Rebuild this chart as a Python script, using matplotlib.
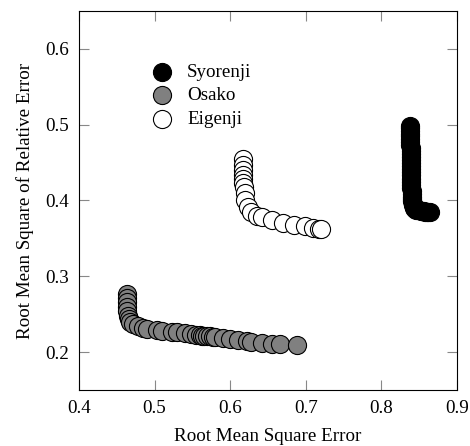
import matplotlib.pyplot as plt
import numpy as np

plt.rcParams['font.family'] = ['Liberation Serif', 'DejaVu Serif']
plt.rcParams['font.size'] = 13.7

# Syorenji
syo_x = [0.8380, 0.8381, 0.8381, 0.8382, 0.8383, 0.8383, 0.8384, 0.8385, 0.8386, 0.8386,
         0.8387, 0.8388, 0.8389, 0.8389, 0.8390, 0.8391, 0.8392, 0.8393, 0.8394, 0.8395,
         0.8396, 0.8397, 0.8399, 0.8401, 0.8403, 0.8406, 0.8410, 0.8415, 0.8421, 0.8428,
         0.8436, 0.8445, 0.8460, 0.8480, 0.8500, 0.8520, 0.8540, 0.8560, 0.8580, 0.8600,
         0.8620, 0.8640]
syo_y = [0.498, 0.495, 0.492, 0.488, 0.485, 0.481, 0.477, 0.473, 0.469, 0.465,
         0.461, 0.457, 0.453, 0.449, 0.445, 0.441, 0.437, 0.433, 0.429, 0.425,
         0.421, 0.417, 0.413, 0.409, 0.405, 0.402, 0.399, 0.396, 0.394, 0.392,
         0.390, 0.389, 0.388, 0.387, 0.387, 0.386, 0.386, 0.386, 0.385, 0.385,
         0.385, 0.385]

# Osako
osa_x = [0.463, 0.463, 0.463, 0.463, 0.464, 0.465, 0.466, 0.468, 0.472, 0.478,
         0.485, 0.490, 0.503, 0.510, 0.523, 0.530, 0.540, 0.548, 0.555, 0.560,
         0.563, 0.566, 0.570, 0.573, 0.577, 0.580, 0.591, 0.600, 0.610, 0.622,
         0.628, 0.642, 0.655, 0.666, 0.688]
osa_y = [0.277, 0.272, 0.266, 0.260, 0.254, 0.248, 0.243, 0.240, 0.237, 0.234,
         0.232, 0.231, 0.229, 0.228, 0.227, 0.226, 0.225, 0.224, 0.223, 0.222,
         0.2218, 0.2214, 0.221, 0.2206, 0.2202, 0.220, 0.218, 0.217, 0.216, 0.214,
         0.2136, 0.212, 0.211, 0.2106, 0.210]

# Eigenji
eig_x = [0.617, 0.617, 0.617, 0.617, 0.617, 0.617, 0.618, 0.619, 0.620, 0.623,
         0.628, 0.635, 0.642, 0.655, 0.670, 0.685, 0.699, 0.710, 0.717, 0.720]
eig_y = [0.455, 0.447, 0.440, 0.433, 0.428, 0.423, 0.418, 0.410, 0.400, 0.392,
         0.385, 0.380, 0.378, 0.374, 0.370, 0.368, 0.366, 0.364, 0.363, 0.362]

fig = plt.figure(figsize=(4.7, 4.46), dpi=100)
ax = fig.add_axes([0.168, 0.1256, 0.8043, 0.8497])

ax.scatter(syo_x, syo_y, s=170, c='black', edgecolors='black', linewidths=0.8, label='Syorenji')
ax.scatter(osa_x, osa_y, s=170, c='#808080', edgecolors='black', linewidths=0.8, label='Osako')
ax.scatter(eig_x, eig_y, s=170, c='white', edgecolors='black', linewidths=0.8, label='Eigenji')

ax.set_xlim(0.4, 0.9)
ax.set_ylim(0.15, 0.65)
ax.set_xticks([0.4, 0.5, 0.6, 0.7, 0.8, 0.9])
ax.set_yticks([0.2, 0.3, 0.4, 0.5, 0.6])
ax.tick_params(direction='in', length=7, width=0.8, color='#888888',
               top=True, right=True, pad=7)
ax.set_xlabel('Root Mean Square Error', labelpad=8)
ax.set_ylabel('Root Mean Square of Relative Error', labelpad=8)

ax.legend(loc='upper left', bbox_to_anchor=(0.135, 0.895), frameon=False,
          handletextpad=0.3, labelspacing=0.3, markerscale=1.0, borderpad=0.2)

plt.savefig('out.png', dpi=100)
